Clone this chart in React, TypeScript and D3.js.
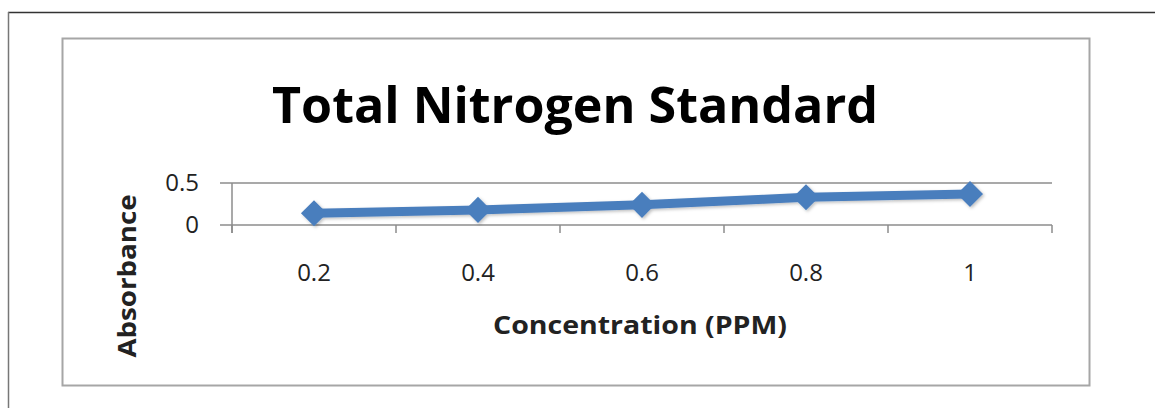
import React from 'react';
import * as d3 from 'd3';

// chart data
const categories = ['0.2', '0.4', '0.6', '0.8', '1'];
const absorbance = [0.14, 0.18, 0.24, 0.33, 0.37];
const yTicks = [0, 0.5];

const title = 'Total Nitrogen Standard';
const xTitle = 'Concentration (PPM)';
const yTitle = 'Absorbance';

const W = 1155;
const H = 408;
const FONT = '"Open Sans", "Noto Sans", sans-serif';
const BLUE = '#4a7ebd';
const GRID = '#8c8c8c';

const App = () => {
  const left = 232;
  const right = 1052;
  const top = 183;
  const bottom = 225;

  const x = d3.scaleBand<string>().domain(categories).range([left, right]);
  const y = d3.scaleLinear().domain([0, 0.5]).range([bottom, top]);
  const cx = (c: string) => (x(c) || 0) + x.bandwidth() / 2;

  const pts: [number, number][] = categories.map((c, i) => [cx(c), y(absorbance[i])]);
  const line = d3.line()(pts) || '';
  const diamond = d3.symbol().type(d3.symbolSquare).size(340)() || '';

  const bounds = categories.map((c) => x(c) || 0).concat([right]);

  return (
    <svg
      width={W}
      height={H}
      style={{ position: 'absolute', left: 0, top: 0, background: '#fff' }}
    >
      <defs>
        <filter id="sh" x="-20%" y="-50%" width="140%" height="200%">
          <feDropShadow dx="1.5" dy="1.5" stdDeviation="1.5" floodColor="#000" floodOpacity="0.25" />
        </filter>
      </defs>

      {/* outer frame */}
      <line x1={8} y1={12.5} x2={W} y2={12.5} stroke="#333" strokeWidth={1.5} />
      <line x1={8.5} y1={12} x2={8.5} y2={H} stroke="#777" strokeWidth={1.5} />

      {/* chart area border */}
      <rect x={62.5} y={38.5} width={1027} height={347} fill="#fff" stroke="#a6a6a6" strokeWidth={2} />

      <text
        x={575}
        y={123}
        textAnchor="middle"
        fontFamily={FONT}
        fontWeight="bold"
        fontSize={51}
        textLength={606}
        lengthAdjust="spacingAndGlyphs"
        fill="#000"
      >
        {title}
      </text>

      {/* gridlines + y ticks */}
      {yTicks.map((t) => (
        <g key={t}>
          <line x1={220} x2={right} y1={y(t)} y2={y(t)} stroke={GRID} strokeWidth={1.5} />
          <text
            x={199}
            y={y(t) + 8}
            textAnchor="end"
            fontFamily={FONT}
            fontSize={24}
            fill="#222"
          >
            {t}
          </text>
        </g>
      ))}

      {/* y axis line */}
      <line x1={left} x2={left} y1={top} y2={bottom + 8} stroke={GRID} strokeWidth={1.5} />

      {/* x tick marks at category boundaries */}
      {bounds.map((b, i) => (
        <line key={i} x1={b} x2={b} y1={bottom} y2={bottom + 8} stroke={GRID} strokeWidth={1.5} />
      ))}

      {categories.map((c) => (
        <text
          key={c}
          x={cx(c)}
          y={281}
          textAnchor="middle"
          fontFamily={FONT}
          fontSize={24}
          fill="#222"
        >
          {c}
        </text>
      ))}

      {/* series */}
      <g filter="url(#sh)">
        <path d={line} fill="none" stroke={BLUE} strokeWidth={9} strokeLinejoin="round" />
        {pts.map((p, i) => (
          <path key={i} d={diamond} transform={`translate(${p[0]},${p[1]}) rotate(45)`} fill={BLUE} />
        ))}
      </g>

      <text
        x={640}
        y={334}
        textAnchor="middle"
        fontFamily={FONT}
        fontWeight="bold"
        fontSize={25}
        textLength={294}
        lengthAdjust="spacingAndGlyphs"
        fill="#222"
      >
        {xTitle}
      </text>

      <text
        transform="translate(136,276) rotate(-90)"
        textAnchor="middle"
        fontFamily={FONT}
        fontWeight="bold"
        fontSize={25}
        textLength={163}
        lengthAdjust="spacingAndGlyphs"
        fill="#222"
      >
        {yTitle}
      </text>
    </svg>
  );
};

export default App;
